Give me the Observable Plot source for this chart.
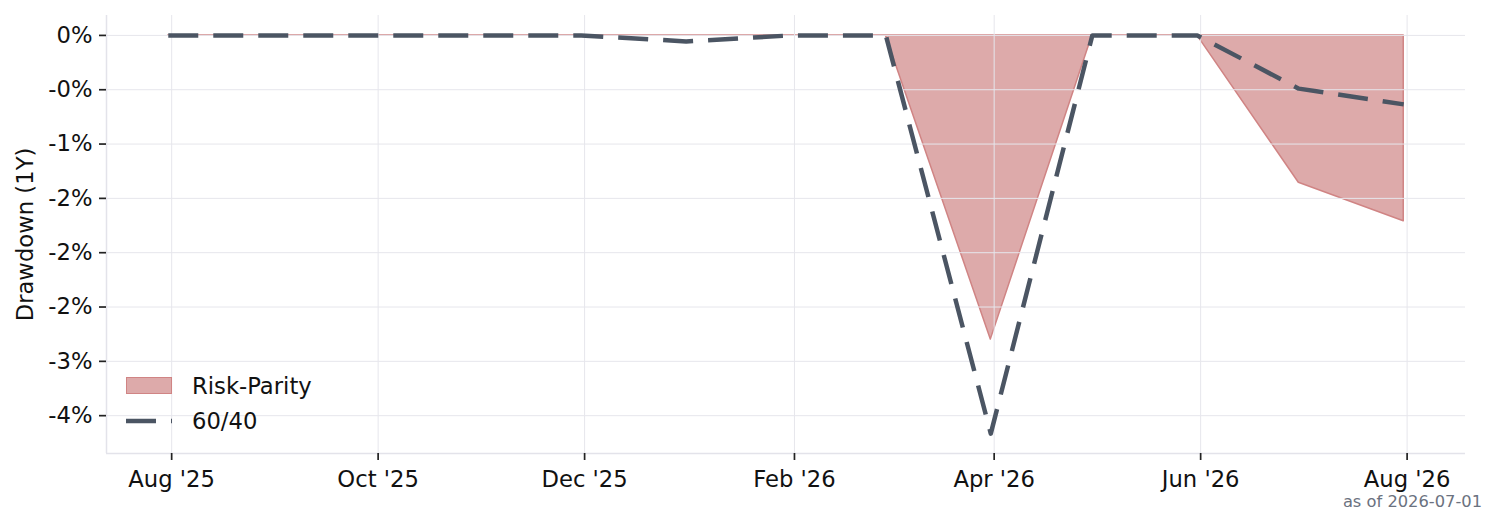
<!DOCTYPE html>
<html>
<head>
<meta charset="utf-8">
<script src="https://cdn.jsdelivr.net/npm/d3@7"></script>
<script src="https://cdn.jsdelivr.net/npm/@observablehq/plot@0.6"></script>
<style>
  html, body { margin: 0; padding: 0; background: #fff; }
  #wrap { position: relative; width: 1498px; height: 525px; font-family: "DejaVu Sans", sans-serif; }
  #wrap svg { display: block; }
  .legend { position: absolute; left: 126px; top: 368px; font-size: 22.7px; color: #111; }
  .legend .row { display: flex; align-items: center; height: 35px; }
  .legend .sw { width: 46px; height: 17px; box-sizing: border-box; background: #ddaaaa; border: 1.5px solid #d08484; }
  .legend .lab { margin-left: 20px; }
  .caption { position: absolute; right: 16px; top: 492px; font-size: 16.3px; color: #6b7280; }
</style>
</head>
<body>
<div id="wrap"></div>
<script>
// Month-end observations
const dates = ["2025-07-31","2025-08-31","2025-09-30","2025-10-31","2025-11-30","2025-12-31",
               "2026-01-31","2026-02-28","2026-03-31","2026-04-30","2026-05-31","2026-06-30","2026-07-31"];
// Drawdown, in percent
const riskParity = [0, 0, 0, 0, 0, 0, 0, 0, -2.80, 0, 0, -1.356, -1.71];
const sixtyForty = [0, 0, 0, 0, 0, -0.055, 0, 0, -3.665, 0, 0, -0.49, -0.635];

const xTicks = ["2025-08-01","2025-10-01","2025-12-01","2026-02-01","2026-04-01","2026-06-01","2026-08-01"];
const xTickLabels = ["Aug '25","Oct '25","Dec '25","Feb '26","Apr '26","Jun '26","Aug '26"];
const yTicks = [0, -0.5, -1, -1.5, -2, -2.5, -3, -3.5];
const yTickLabels = ["0%","-0%","-1%","-2%","-2%","-2%","-3%","-4%"];

const parse = d3.utcParse("%Y-%m-%d");
const data = dates.map((d, i) => ({date: parse(d), rp: riskParity[i], sf: sixtyForty[i]}));
const xTickDates = xTicks.map(parse);

// matplotlib-like 5% margins
const [x0, x1] = d3.extent(data, d => d.date);
const xPad = (x1 - x0) * 0.05;
const xDomain = [new Date(+x0 - xPad), new Date(+x1 + xPad)];
const allY = riskParity.concat(sixtyForty);
const yMin = d3.min(allY), yMax = d3.max(allY);
const yPad = (yMax - yMin) * 0.05;
const yDomain = [yMin - yPad, yMax + yPad];

const chart = Plot.plot({
  width: 1498,
  height: 525,
  marginLeft: 106,
  marginRight: 33,
  marginTop: 15,
  marginBottom: 72,
  style: {fontFamily: "DejaVu Sans, sans-serif", fontSize: "22.7px", color: "#111", background: "#fff"},
  x: {type: "utc", domain: xDomain},
  y: {domain: yDomain},
  marks: [
    Plot.areaY(data, {x: "date", y1: 0, y2: "rp", fill: "#ddaaaa", stroke: "#d08484", strokeWidth: 1.5}),
    Plot.gridX(xTickDates, {stroke: "#e6e6ec", strokeOpacity: 1, strokeWidth: 1}),
    Plot.gridY(yTicks, {stroke: "#e6e6ec", strokeOpacity: 1, strokeWidth: 1}),
    Plot.ruleX([xDomain[0]], {stroke: "#e3e3ea", strokeWidth: 1.5}),
    Plot.ruleY([yDomain[0]], {stroke: "#e3e3ea", strokeWidth: 1.5}),
    Plot.lineY(data, {x: "date", y: "sf", stroke: "#4b5563", strokeWidth: 4.5, strokeDasharray: "30,15", strokeLinecap: "butt", strokeLinejoin: "round"}),
    Plot.axisX({ticks: xTickDates, tickFormat: (d, i) => xTickLabels[i], tickSize: 7, tickPadding: 10, stroke: "#222", strokeWidth: 1.7, label: null, fontSize: 22.7, fill: "#111"}),
    Plot.axisY({ticks: yTicks, tickFormat: (d, i) => yTickLabels[i], tickSize: 7, tickPadding: 7, stroke: "#222", strokeWidth: 1.7, fontSize: 22.7, fill: "#111",
      label: "Drawdown (1Y)", labelAnchor: "center", labelArrow: "none", labelOffset: 90})
  ]
});

const wrap = document.getElementById("wrap");
wrap.appendChild(chart);

const legend = document.createElement("div");
legend.className = "legend";
legend.innerHTML = `
  <div class="row"><div class="sw"></div><div class="lab">Risk-Parity</div></div>
  <div class="row"><svg width="46" height="10"><line x1="0" y1="5" x2="46" y2="5" stroke="#4b5563" stroke-width="4.5" stroke-dasharray="30,15"/></svg><div class="lab">60/40</div></div>`;
wrap.appendChild(legend);

const cap = document.createElement("div");
cap.className = "caption";
cap.textContent = "as of 2026-07-01";
wrap.appendChild(cap);
</script>
</body>
</html>
